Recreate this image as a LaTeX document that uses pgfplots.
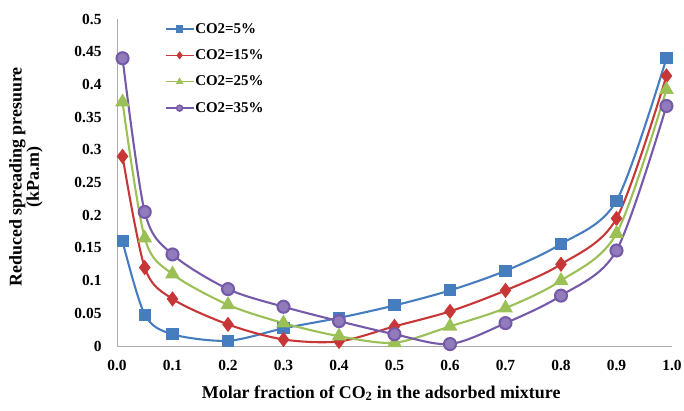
\documentclass[border=0pt]{standalone}
\usepackage{pgfplots}
\pgfplotsset{compat=1.18}
\usepackage{fontspec}
\setmainfont{Liberation Serif}
\definecolor{cblue}{RGB}{70,125,190}
\definecolor{cred}{RGB}{200,55,55}
\definecolor{cgreen}{RGB}{155,192,85}
\definecolor{cpurple}{RGB}{118,90,170}
\begin{document}
\begin{tikzpicture}[x=1bp,y=1bp]
\useasboundingbox (-117bp,-65bp) rectangle (567bp,346bp);
\begin{axis}[
  scale only axis, width=555bp, height=327bp,
  xmin=0, xmax=1, ymin=0, ymax=0.5,
  axis x line=bottom, axis y line=left,
  axis line style={-, gray!65, line width=0.8pt},
  xtick={0,0.1,...,1.0},
  xticklabels={0.0,0.1,0.2,0.3,0.4,0.5,0.6,0.7,0.8,0.9,1.0},
  ytick={0,0.05,...,0.5},
  yticklabels={0,0.05,0.1,0.15,0.2,0.25,0.3,0.35,0.4,0.45,0.5},
  major tick length=0pt,
  tick label style={font=\fontsize{15.5}{15.5}\selectfont\bfseries},
  xticklabel style={yshift=-11bp},
  yticklabel style={xshift=-12bp},
  xlabel={Molar fraction of CO$_{\mathbf 2}$ in the adsorbed mixture},
  ylabel={Reduced spreading presuure\\(kPa.m)},
  label style={font=\fontsize{18}{16}\selectfont\bfseries},
  ylabel style={align=center, at={(axis description cs:-0.164,0.517)}, anchor=center, rotate=0},
  xlabel style={at={(axis description cs:0.476,-0.144)}, anchor=center},
  legend style={at={(rel axis cs:0.086,1.0)}, anchor=north west, draw=none, fill=none,
    font=\fontsize{15}{15}\selectfont\bfseries, row sep=11bp, inner xsep=0pt,
    nodes={inner xsep=1bp}},
  legend cell align=left,
  legend image code/.code={\draw[mark repeat=2,mark phase=2, mark size=3bp, line width=1.4pt] plot coordinates {(0bp,0bp)(14bp,0bp)(28bp,0bp)};},
  every axis plot/.append style={line width=2.1pt, smooth, tension=0.5},
]
\addplot[cblue, mark=square*, mark size=5bp, mark options={fill=cblue}] coordinates {
(0.01,0.160)(0.05,0.048)(0.1,0.018)(0.2,0.008)(0.3,0.027)(0.4,0.043)(0.5,0.062)(0.6,0.085)(0.7,0.115)(0.8,0.156)(0.9,0.222)(0.99,0.440)};
\addlegendentry{CO2=5\%}
\addplot[cred, mark=diamond*, mark size=6bp, mark options={fill=cred}] coordinates {
(0.01,0.290)(0.05,0.120)(0.1,0.072)(0.2,0.033)(0.3,0.010)(0.4,0.007)(0.5,0.030)(0.6,0.053)(0.7,0.085)(0.8,0.125)(0.9,0.195)(0.99,0.413)};
\addlegendentry{CO2=15\%}
\addplot[cgreen, mark=triangle*, mark size=6.5bp, mark options={fill=cgreen}] coordinates {
(0.01,0.373)(0.05,0.165)(0.1,0.110)(0.2,0.063)(0.3,0.035)(0.4,0.015)(0.5,0.005)(0.6,0.030)(0.7,0.058)(0.8,0.100)(0.9,0.172)(0.99,0.392)};
\addlegendentry{CO2=25\%}
\addplot[cpurple, mark=*, mark size=6bp, mark options={fill=cpurple!80}] coordinates {
(0.01,0.440)(0.05,0.205)(0.1,0.140)(0.2,0.087)(0.3,0.060)(0.4,0.038)(0.5,0.018)(0.6,0.003)(0.7,0.035)(0.8,0.077)(0.9,0.146)(0.99,0.367)};
\addlegendentry{CO2=35\%}
\end{axis}
\end{tikzpicture}
\end{document}
